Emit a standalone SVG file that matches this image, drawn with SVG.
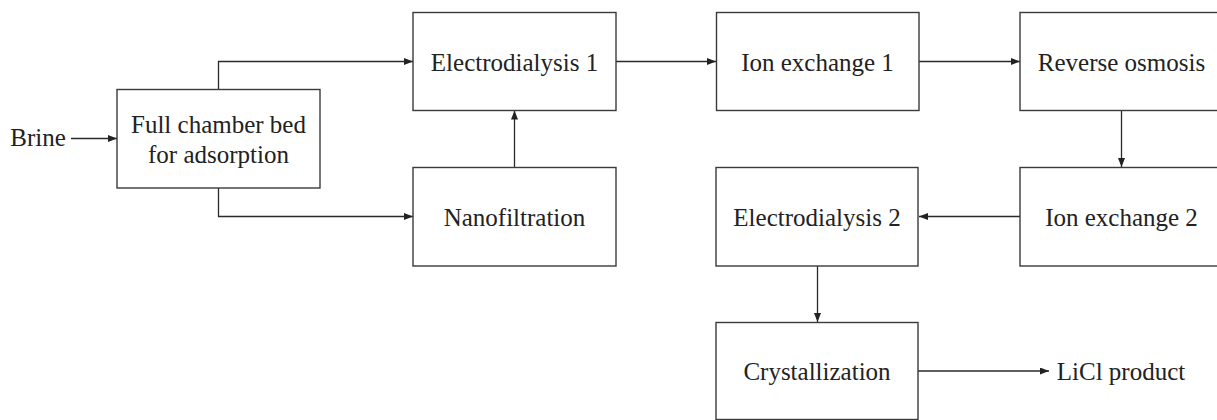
<svg xmlns="http://www.w3.org/2000/svg" width="1217" height="420" viewBox="0 0 1217 420">
<defs>
<marker id="ah" viewBox="0 0 9 7" refX="9" refY="3.5" markerWidth="9" markerHeight="7" markerUnits="userSpaceOnUse" orient="auto">
<path d="M0,0 L9,3.5 L0,7 z" fill="#222"/>
</marker>
<style>
.box{fill:#fff;stroke:#3a3a3a;stroke-width:1.4}
.lbl{font-family:"Liberation Serif","Times New Roman",serif;font-size:25px;fill:#222;text-anchor:middle}
.con{fill:none;stroke:#2a2a2a;stroke-width:1.3;marker-end:url(#ah)}
</style>
</defs>
<rect width="1217" height="420" fill="#fff"/>
<g id="connectors">
<path class="con" d="M71,138.5 H117"/>
<path class="con" d="M218.5,89.5 V61.5 H413"/>
<path class="con" d="M218.5,188 V216.5 H413"/>
<path class="con" d="M514.5,167 V110.5"/>
<path class="con" d="M616,61.5 H716"/>
<path class="con" d="M919,61.5 H1020"/>
<path class="con" d="M1121.5,110.5 V167"/>
<path class="con" d="M1020,216.5 H919"/>
<path class="con" d="M817.5,266 V322"/>
<path class="con" d="M918,371 H1049"/>
</g>
<g id="brine"><text class="lbl" x="38" y="146">Brine</text></g>
<g id="full-chamber">
<rect class="box" x="117" y="89.5" width="203" height="98.5"/>
<text class="lbl" x="218.5" y="133">Full chamber bed</text>
<text class="lbl" x="218.5" y="163">for adsorption</text>
</g>
<g id="ed1">
<rect class="box" x="413" y="12.5" width="203" height="98"/>
<text class="lbl" x="514.5" y="71">Electrodialysis 1</text>
</g>
<g id="nf">
<rect class="box" x="413" y="167.5" width="203" height="98.5"/>
<text class="lbl" x="514.5" y="226">Nanofiltration</text>
</g>
<g id="ix1">
<rect class="box" x="716.5" y="12.5" width="202.5" height="98"/>
<text class="lbl" x="817.5" y="71">Ion exchange 1</text>
</g>
<g id="ro">
<rect class="box" x="1020" y="12.5" width="203" height="98"/>
<text class="lbl" x="1121.5" y="71">Reverse osmosis</text>
</g>
<g id="ix2">
<rect class="box" x="1020" y="167.5" width="203" height="98.5"/>
<text class="lbl" x="1121.5" y="226">Ion exchange 2</text>
</g>
<g id="ed2">
<rect class="box" x="716" y="167.5" width="202" height="98.5"/>
<text class="lbl" x="817" y="226">Electrodialysis 2</text>
</g>
<g id="cryst">
<rect class="box" x="716" y="322.5" width="202" height="97"/>
<text class="lbl" x="817" y="380">Crystallization</text>
</g>
<g id="product"><text class="lbl" x="1121" y="380">LiCl product</text></g>
</svg>
